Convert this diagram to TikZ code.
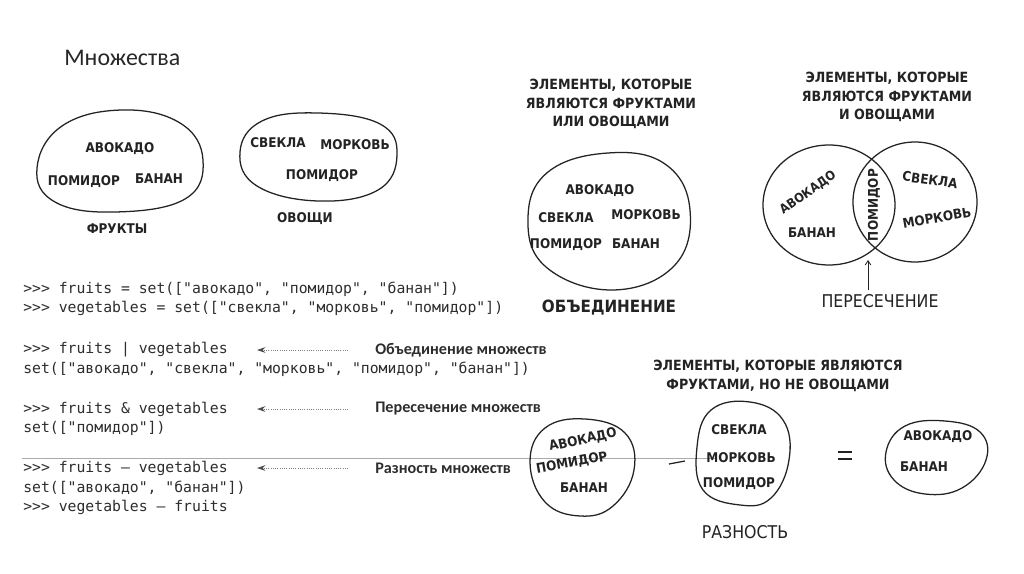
\documentclass[tikz,border=0pt]{standalone}
\usepackage{fontspec}
\usepackage{tikz}
\usetikzlibrary{arrows.meta}
\setmainfont{Carlito}
\newfontfamily\handfont{DejaVu Sans}[FakeStretch=0.9]
\newfontfamily\codefont{DejaVu Sans Mono}
\definecolor{InkGray}{RGB}{35,35,35}
\definecolor{CodeGray}{RGB}{45,45,45}
\definecolor{RuleGray}{RGB}{170,170,170}

\begin{document}
\begin{tikzpicture}[x=0.25mm, y=-0.25mm,
		item/.style={font=\handfont\bfseries\fontsize{9.5}{11}\selectfont, text=InkGray, inner sep=0pt},
		caption/.style={font=\handfont\bfseries\fontsize{10}{13.3}\selectfont, text=InkGray, align=center, inner sep=0pt},
		biglabel/.style={font=\handfont\fontsize{12.5}{14}\selectfont, text=InkGray, inner sep=0pt},
		code/.style={font=\codefont\fontsize{10.5}{12}\selectfont, text=CodeGray, anchor=west, inner sep=0pt},
		note/.style={font=\bfseries\fontsize{11.5}{13}\selectfont, text=CodeGray, anchor=west, inner sep=0pt},
		blob/.style={draw=InkGray, line width=0.9pt},
		pointer/.style={densely dotted, gray, line width=0.6pt, -{Stealth[length=6pt, width=4pt, black!70]}}]
	\useasboundingbox[fill=white] (0,0) rectangle (1024,574);
	% заголовок
	\node[anchor=west, font=\fontsize{17}{20}\selectfont, text=black!85, inner sep=0pt] (title) at (64,58) {Множества};
	% фрукты и овощи
	\draw[blob] plot[smooth cycle, tension=0.7] coordinates {(37,168) (62,126) (122,110) (180,123) (203,160) (185,199) (115,212) (55,202)};
	\node[item] (f1) at (120,149) {АВОКАДО};
	\node[item] (f2) at (84,182) {ПОМИДОР};
	\node[item] (f3) at (159,179) {БАНАН};
	\node[item] (fname) at (117,229) {ФРУКТЫ};
	\draw[blob] plot[smooth cycle, tension=0.7] coordinates {(240,152) (262,121) (318,113) (380,124) (397,155) (378,190) (318,201) (257,186)};
	\node[item] (v1) at (278,143) {СВЕКЛА};
	\node[item] (v2) at (355,145) {МОРКОВЬ};
	\node[item] (v3) at (322,176) {ПОМИДОР};
	\node[item] (vname) at (305,219) {ОВОЩИ};
	% код
	\node[code] (c1) at (23,289) {>>> fruits = set(["авокадо", "помидор", "банан"])};
	\node[code] (c2) at (23,308) {>>> vegetables = set(["свекла", "морковь", "помидор"])};
	\node[code] (c3) at (23,350) {>>> fruits | vegetables};
	\node[code] (c4) at (23,369) {set(["авокадо", "свекла", "морковь", "помидор", "банан"])};
	\node[code] (c5) at (23,409) {>>> fruits \& vegetables};
	\node[code] (c6) at (23,428) {set(["помидор"])};
	\node[code] (c7) at (23,468) {>>> fruits – vegetables};
	\node[code] (c8) at (23,488) {set(["авокадо", "банан"])};
	\node[code] (c9) at (23,507) {>>> vegetables – fruits};
	% подписи к коду
	\node[note] (n1) at (375,350) {Объединение множеств};
	\node[note] (n2) at (375,409) {Пересечение множеств};
	\node[note] (n3) at (375,468) {Разность множеств};
	\draw[pointer] (348,350) -- (257,350);
	\draw[pointer] (348,409) -- (257,409);
	\draw[pointer] (348,468) -- (257,468);
	\draw[RuleGray, line width=0.5pt] (22,458) -- (716,458);
	% объединение
	\node[caption] (ucap) at (611,104) {ЭЛЕМЕНТЫ, КОТОРЫЕ\\ЯВЛЯЮТСЯ ФРУКТАМИ\\ИЛИ ОВОЩАМИ};
	\draw[blob] plot[smooth cycle, tension=0.7] coordinates {(528,218) (548,172) (608,153) (665,164) (690,210) (674,266) (612,290) (546,267)};
	\node[item] (u1) at (600,191) {АВОКАДО};
	\node[item] (u2) at (566,218) {СВЕКЛА};
	\node[item] (u3) at (646,215) {МОРКОВЬ};
	\node[item] (u4) at (566,245) {ПОМИДОР};
	\node[item] (u5) at (636,244) {БАНАН};
	\node[biglabel, font=\handfont\bfseries\fontsize{12}{14}\selectfont] (uname) at (609,308) {ОБЪЕДИНЕНИЕ};
	% пересечение
	\node[caption] (icap) at (887,97) {ЭЛЕМЕНТЫ, КОТОРЫЕ\\ЯВЛЯЮТСЯ ФРУКТАМИ\\И ОВОЩАМИ};
	\draw[blob] (829,205) ellipse [x radius=66, y radius=60];
	\draw[blob] (915,202) ellipse [x radius=62, y radius=60];
	\node[item, rotate=35, font=\handfont\bfseries\fontsize{9}{10}\selectfont] (i1) at (808,193) {АВОКАДО};
	\node[item] (i2) at (812,233) {БАНАН};
	\node[item, rotate=90] (i3) at (874,205) {ПОМИДОР};
	\node[item, rotate=-8] (i4) at (930,180) {СВЕКЛА};
	\node[item, rotate=10] (i5) at (937,218) {МОРКОВЬ};
	\node[biglabel] (iname) at (880,301) {ПЕРЕСЕЧЕНИЕ};
	\coordinate (itip) at (868,260);
	\draw[InkGray, line width=0.6pt, -{Straight Barb[length=3pt, width=4pt]}] (iname.north) ++(-12,-4) -- (itip);
	% разность
	\node[caption] (dcap) at (778,376) {ЭЛЕМЕНТЫ, КОТОРЫЕ ЯВЛЯЮТСЯ\\ФРУКТАМИ, НО НЕ ОВОЩАМИ};
	\draw[blob] plot[smooth cycle, tension=0.7] coordinates {(530,462) (545,428) (585,419) (625,433) (634,470) (613,506) (580,516) (545,502)};
	\node[item, rotate=12] (d1) at (583,440) {АВОКАДО};
	\node[item, rotate=10] (d2) at (572,463) {ПОМИДОР};
	\node[item] (d3) at (584,488) {БАНАН};
	\draw[InkGray, line width=0.9pt] (669,464) -- (685,461);
	\draw[blob] plot[smooth cycle, tension=0.7] coordinates {(697,447) (711,410) (750,402) (783,420) (789,460) (771,498) (740,505) (703,490)};
	\node[item] (d4) at (739,430) {СВЕКЛА};
	\node[item] (d5) at (741,458) {МОРКОВЬ};
	\node[item] (d6) at (739,484) {ПОМИДОР};
	\draw[InkGray, line width=0.9pt] (838,452) -- (852,452) (838,459) -- (852,459);
	\draw[blob] plot[smooth cycle, tension=0.7] coordinates {(886,452) (905,426) (945,421) (980,432) (986,460) (962,488) (925,494) (894,480)};
	\node[item] (d7) at (938,437) {АВОКАДО};
	\node[item] (d8) at (924,467) {БАНАН};
	\node[biglabel] (dname) at (745,532) {РАЗНОСТЬ};
\end{tikzpicture}
\end{document}
